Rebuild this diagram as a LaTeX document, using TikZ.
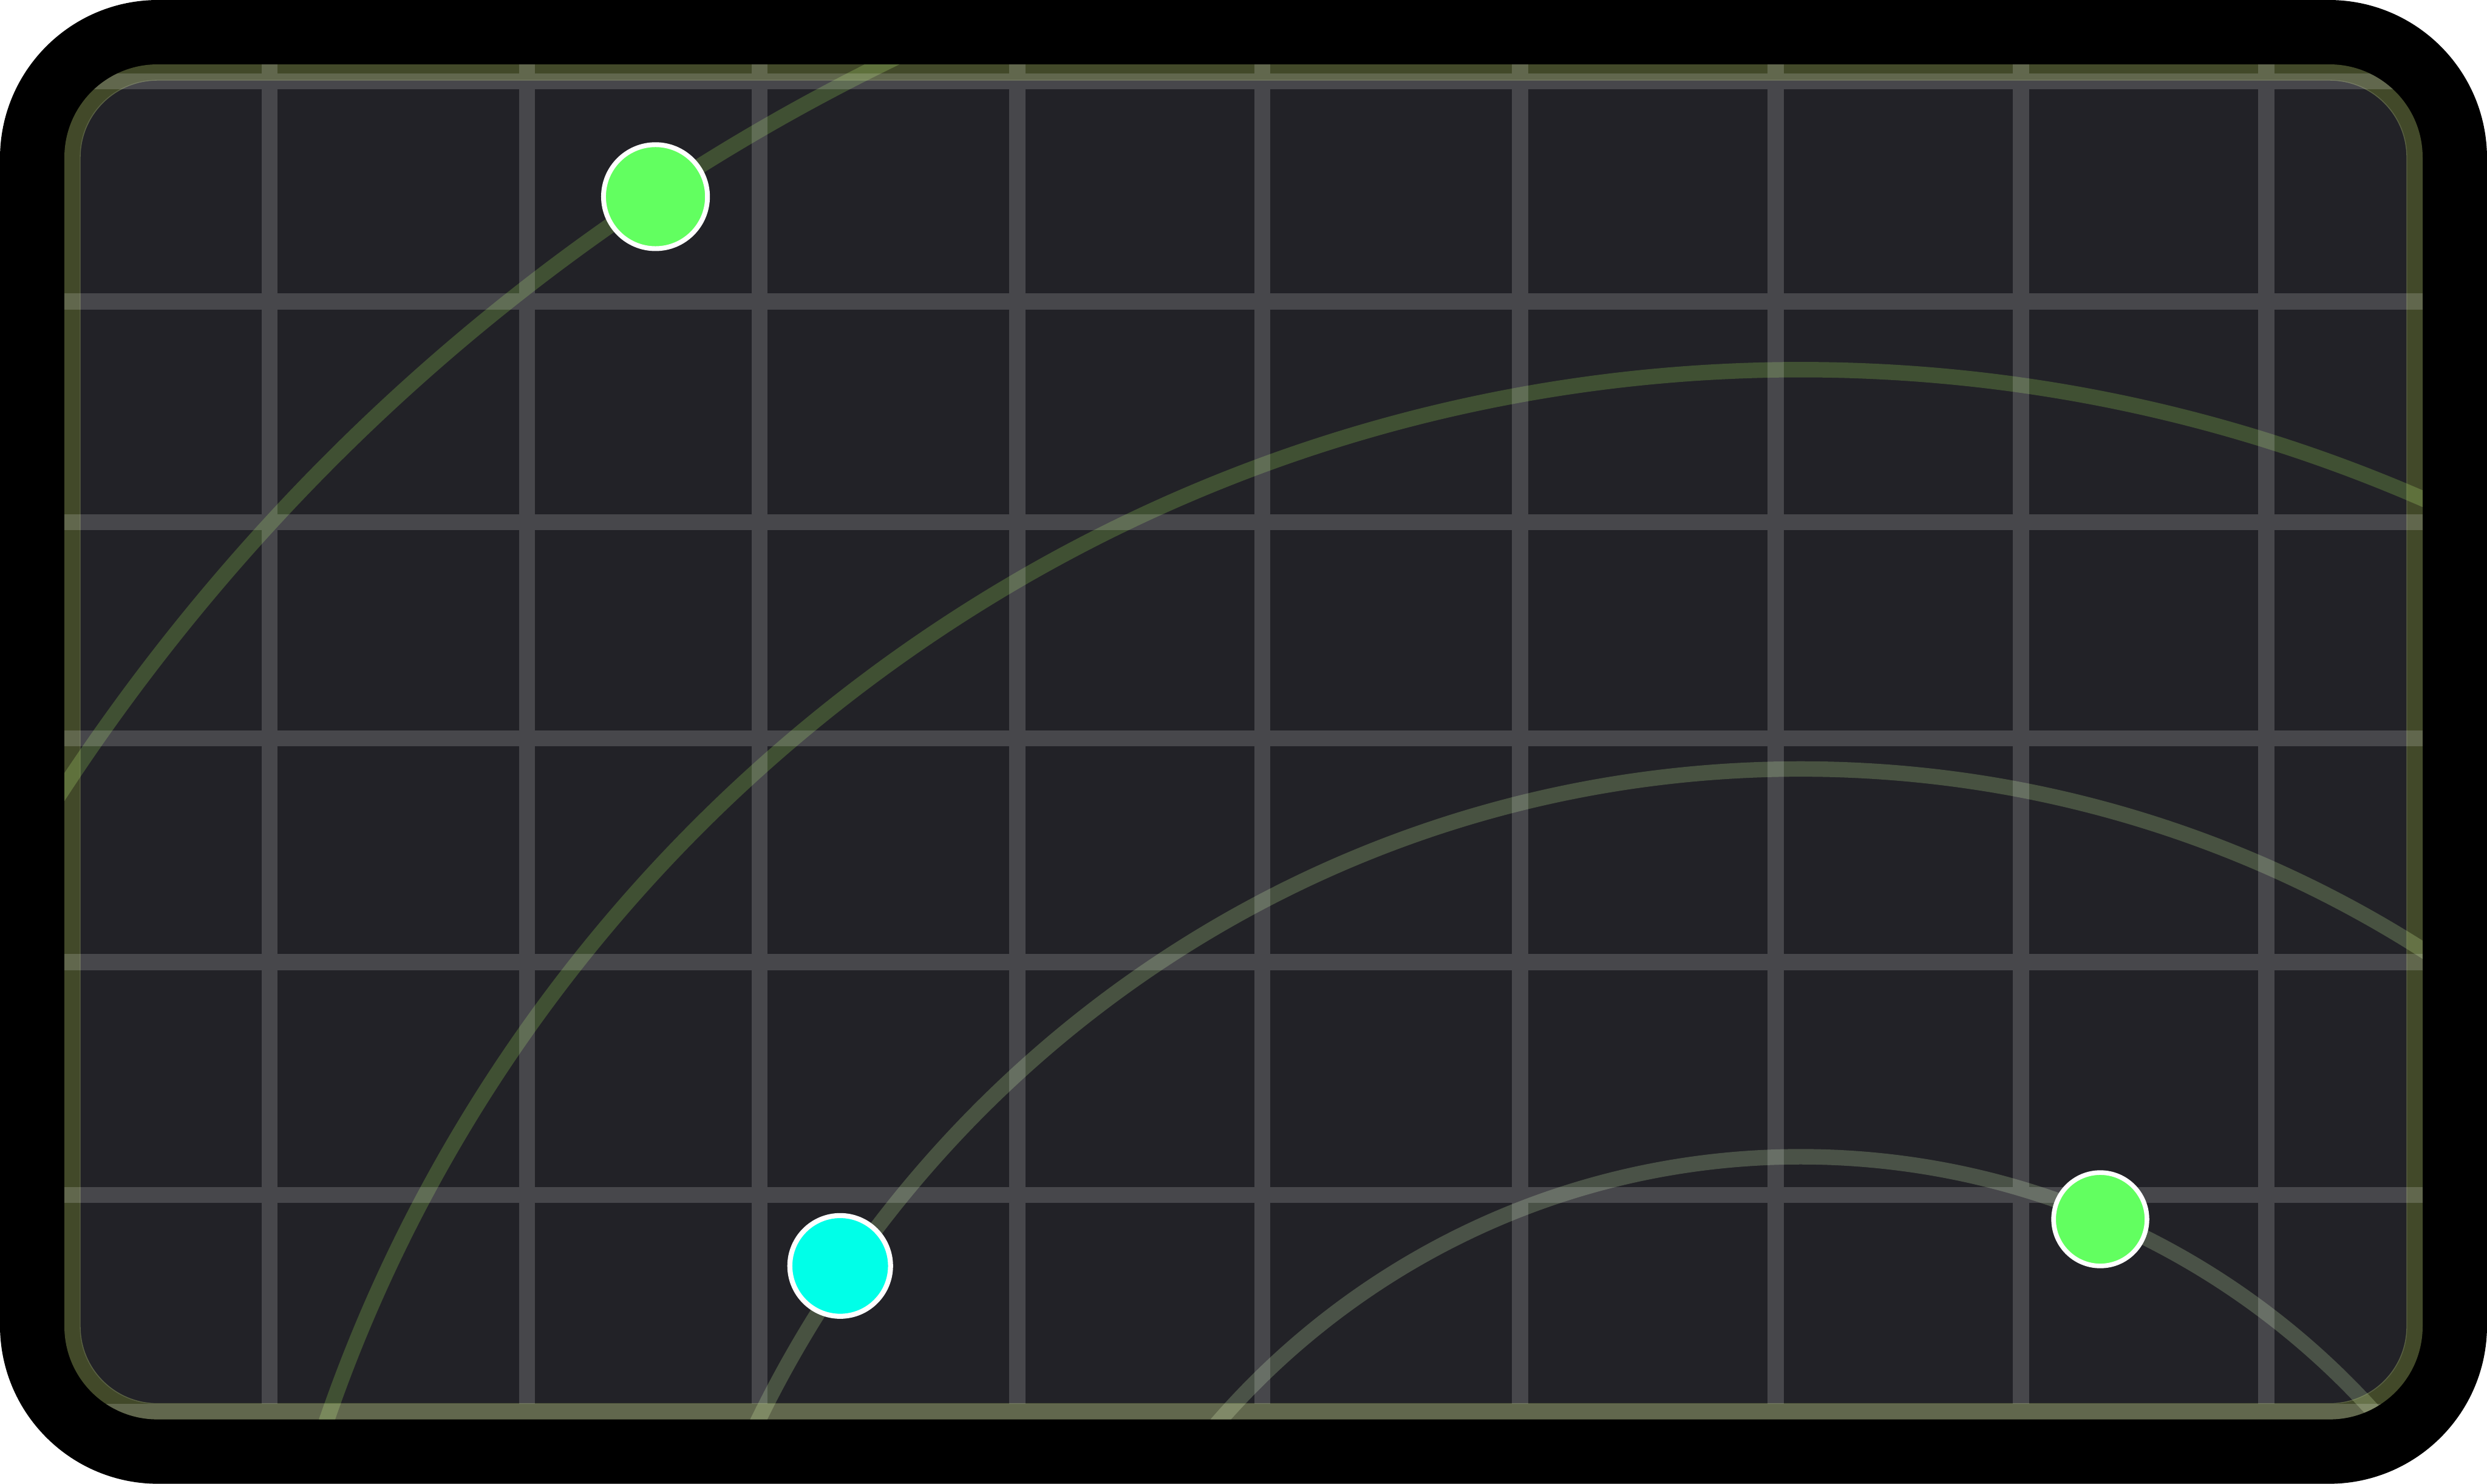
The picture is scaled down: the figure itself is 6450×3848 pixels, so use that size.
\documentclass[tikz,border=0pt]{standalone}
\definecolor{panel}{HTML}{222227}
\definecolor{bandcol}{HTML}{CBE07F}
\definecolor{arcA}{HTML}{6D9547}
\definecolor{arcB}{HTML}{819A68}
\definecolor{arcC}{HTML}{889A79}
\definecolor{dotgreen}{HTML}{62FF60}
\definecolor{dotcyan}{HTML}{00FFE8}
\begin{document}
\begin{tikzpicture}[x=0.01cm,y=-0.01cm,
  gridline/.style={draw=white, draw opacity=0.17, line width=0.42cm},
  bandline/.style={line width=0.42cm, draw=bandcol, draw opacity=0.33},
  arcline/.style={line width=0.40cm, draw opacity=0.4},
  dot/.style={circle, draw=white, inner sep=0pt}]
\useasboundingbox (0,0) rectangle (6450,3848);
% outer black frame
\fill[black, rounded corners=4.1cm] (0,0) rectangle (6450,3848);
% dark panel
\fill[panel, rounded corners=2.0cm] (207,207) rectangle (6243,3641);
% concentric arcs
\begin{scope}
  \clip[rounded corners=2.41cm] (167,167) rectangle (6283,3681);
  \draw[arcline, draw=arcA] (4670,5001) circle[radius=53.85cm];
  \draw[arcline, draw=arcA] (4670,5001) circle[radius=40.40cm];
  \draw[arcline, draw=arcB] (4670,5001) circle[radius=30.05cm];
  \draw[arcline, draw=arcC] (4670,5001) circle[radius=20.00cm];
\end{scope}
% olive border
\draw[bandline, rounded corners=2.2cm] (188,188) rectangle (6262,3660);
% grid
\begin{scope}
  \clip[rounded corners=2.41cm] (167,167) rectangle (6283,3681);
  \draw[gridline]
    (699,0) -- (699,3848)
    (1367,0) -- (1367,3848)
    (1970,0) -- (1970,3848)
    (2638,0) -- (2638,3848)
    (3274,0) -- (3274,3848)
    (3942,0) -- (3942,3848)
    (4605,0) -- (4605,3848)
    (5241,0) -- (5241,3848)
    (5877,0) -- (5877,3848)
    (0,211) -- (6450,211)
    (0,782) -- (6450,782)
    (0,1354) -- (6450,1354)
    (0,1915) -- (6450,1915)
    (0,2495) -- (6450,2495)
    (0,3099) -- (6450,3099)
    (0,3661) -- (6450,3661);
\end{scope}
% markers
\node[dot, fill=dotgreen, line width=0.125cm, minimum size=2.695cm] (g1) at (1700,510) {};
\node[dot, fill=dotcyan, line width=0.13cm, minimum size=2.61cm] (c1) at (2179,3283) {};
\node[dot, fill=dotgreen, line width=0.12cm, minimum size=2.42cm] (g2) at (5447,3162) {};
\end{tikzpicture}
\end{document}
